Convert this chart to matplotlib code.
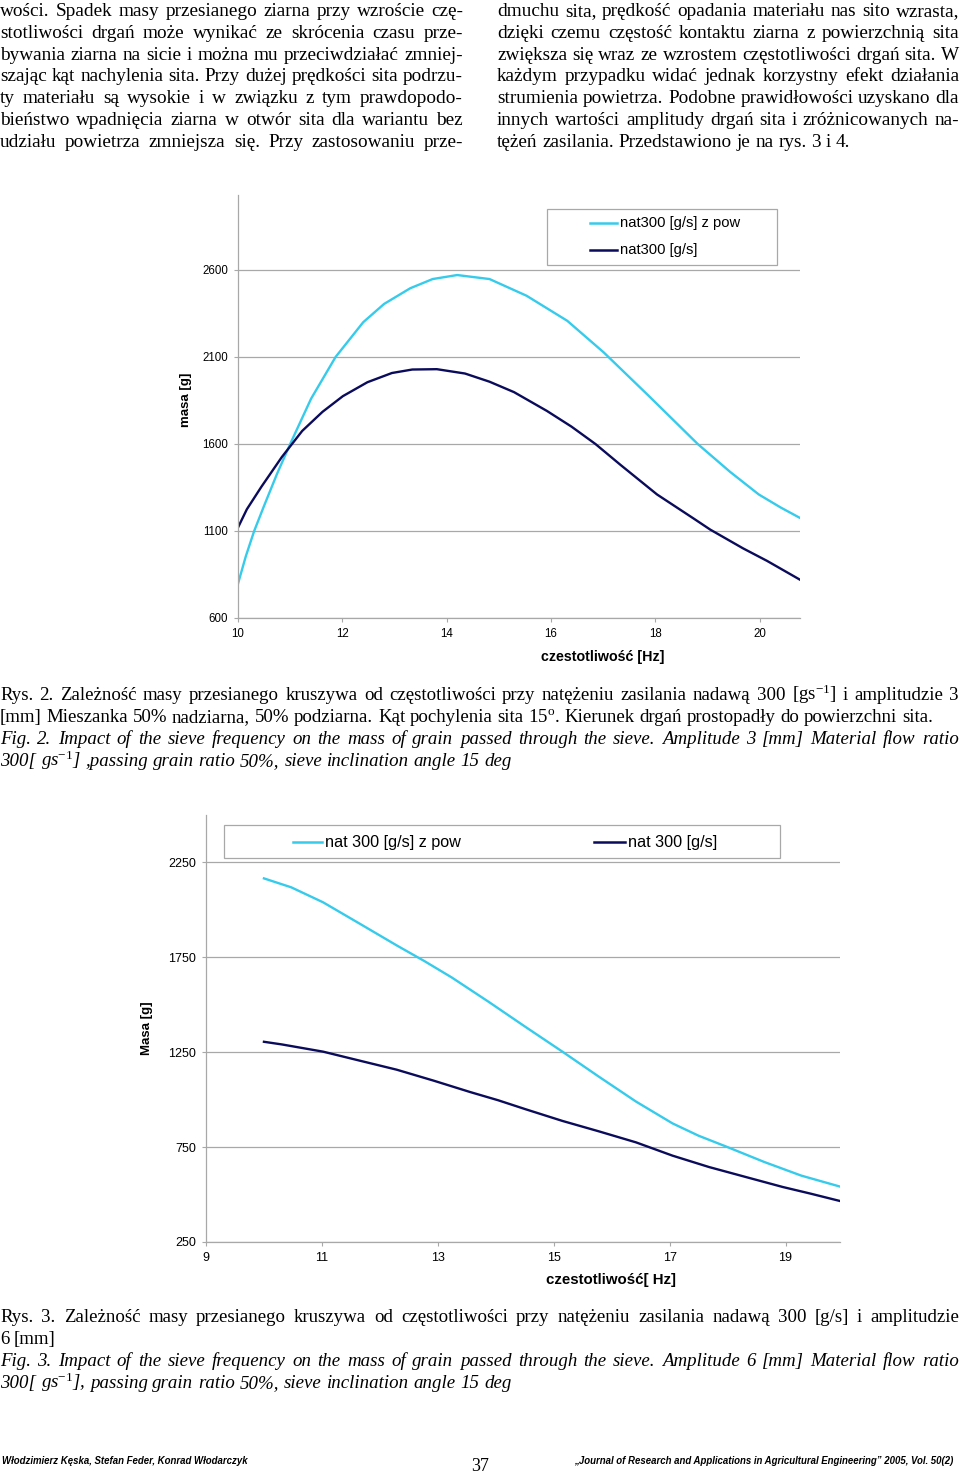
import matplotlib
matplotlib.use("Agg")
import matplotlib.pyplot as plt
from matplotlib.lines import Line2D
from matplotlib.patches import Rectangle

plt.rcParams['mathtext.fontset'] = 'custom'
plt.rcParams['mathtext.rm'] = 'Liberation Serif'
plt.rcParams['mathtext.it'] = 'Liberation Serif:italic'

# ---- data ----
# Rys. 2 (amplitude 3 mm)
f2_x_pow = [10, 10.15, 10.31, 10.5, 10.75, 11.0, 11.4, 11.87, 12.4, 12.8, 13.3,
            13.73, 14.2, 14.82, 15.53, 16.31, 17.01, 17.87, 18.81, 19.43, 19.98,
            20.4, 20.77]
f2_y_pow = [797, 955, 1100, 1245, 1430, 1600, 1860, 2100, 2300, 2405, 2495,
            2548, 2571, 2548, 2452, 2308, 2126, 1877, 1600, 1440, 1310,
            1235, 1175]
f2_x = [10, 10.17, 10.45, 10.84, 11.23, 11.62, 12.01, 12.48, 12.95, 13.34, 13.81,
        14.35, 14.82, 15.29, 15.92, 16.39, 16.85, 17.33, 18.03, 18.74, 19.05,
        19.68, 20.14, 20.77]
f2_y = [1120, 1225, 1355, 1525, 1675, 1785, 1875, 1955, 2008, 2028, 2030,
        2005, 1958, 1898, 1790, 1700, 1600, 1480, 1310, 1170, 1108,
        1000, 928, 820]

# Rys. 3 (amplitude 6 mm)
f3_x_pow = [10, 10.47, 11.02, 11.66, 12.29, 12.77, 13.24, 13.88, 14.51, 15.15,
            15.78, 16.42, 17.05, 17.5, 18.0, 18.63, 19.27, 19.94]
f3_y_pow = [2166, 2119, 2040, 1926, 1813, 1730, 1644, 1515, 1384, 1253,
            1121, 990, 875, 810, 750, 672, 600, 542]
f3_x = [10, 10.31, 11.02, 11.66, 12.29, 12.93, 13.56, 14.04, 14.51, 15.15,
        15.78, 16.42, 17.05, 17.68, 18.32, 18.95, 19.43, 19.94]
f3_y = [1305, 1291, 1253, 1205, 1158, 1100, 1040, 997, 950, 888,
        833, 775, 705, 645, 592, 540, 505, 466]

f2_yticks = [600, 1100, 1600, 2100, 2600]
f3_yticks = [250, 750, 1250, 1750, 2250]

CYAN = "#36CBEB"
NAVY = "#0B0B5C"
GRID = "#A8A8A8"
SERIF = "Liberation Serif"
SANS = "Liberation Sans"

W, H = 960, 1473
fig = plt.figure(figsize=(9.6, 14.73), dpi=100)
renderer = fig.canvas.get_renderer()


def fy(py):
    return 1 - py / H


def put_line(text, base, x0, x1, size, style="normal", last=False):
    words = text.split(" ")
    arts = [fig.text(0, fy(base), w, fontsize=size, family=SERIF, style=style,
                     va="baseline", ha="left") for w in words]
    widths = [a.get_window_extent(renderer).width for a in arts]
    if last or len(words) == 1:
        gap = 0.25 * size * 100 / 72
    else:
        gap = (x1 - x0 - sum(widths)) / (len(words) - 1)
    x = x0
    for a, w in zip(arts, widths):
        a.set_x(x / W)
        x += w + gap


# ---- body text, two columns ----
left_col = [
    "wości. Spadek masy przesianego ziarna przy wzroście czę-",
    "stotliwości drgań może wynikać ze skrócenia czasu prze-",
    "bywania ziarna na sicie i można mu przeciwdziałać zmniej-",
    "szając kąt nachylenia sita. Przy dużej prędkości sita podrzu-",
    "ty materiału są wysokie i w związku z tym prawdopodo-",
    "bieństwo wpadnięcia ziarna w otwór sita dla wariantu bez",
    "udziału powietrza zmniejsza się. Przy zastosowaniu prze-",
]
right_col = [
    "dmuchu sita, prędkość opadania materiału nas sito wzrasta,",
    "dzięki czemu częstość kontaktu ziarna z powierzchnią sita",
    "zwiększa się wraz ze wzrostem częstotliwości drgań sita. W",
    "każdym przypadku widać jednak korzystny efekt działania",
    "strumienia powietrza. Podobne prawidłowości uzyskano dla",
    "innych wartości amplitudy drgań sita i zróżnicowanych na-",
    "tężeń zasilania. Przedstawiono je na rys. 3 i 4.",
]
for i, line in enumerate(left_col):
    put_line(line, 16 + 21.8 * i, 0, 463, 13.9)
for i, line in enumerate(right_col):
    put_line(line, 16 + 21.8 * i, 497, 959, 13.9, last=(i == len(right_col) - 1))

# ---- captions ----
cap2 = [
    ("Rys. 2. Zależność masy przesianego kruszywa od częstotliwości przy natężeniu "
     "zasilania nadawą 300 [gs$^{-1}$] i amplitudzie 3", "normal", False),
    ("[mm] Mieszanka 50% nadziarna, 50% podziarna. Kąt pochylenia sita 15$^{\\mathrm{o}}$. "
     "Kierunek drgań prostopadły do powierzchni sita.", "normal", True),
    ("Fig. 2. Impact of the sieve frequency on the mass of grain passed through the "
     "sieve. Amplitude 3 [mm] Material flow ratio", "italic", False),
    ("300[ gs$^{-1}$] ,passing grain ratio 50%, sieve inclination angle 15 deg", "italic", True),
]
cap3 = [
    ("Rys. 3. Zależność masy przesianego kruszywa od częstotliwości przy natężeniu "
     "zasilania nadawą 300 [g/s] i amplitudzie", "normal", False),
    ("6 [mm]", "normal", True),
    ("Fig. 3. Impact of the sieve frequency on the mass of grain passed through the "
     "sieve. Amplitude 6 [mm] Material flow ratio", "italic", False),
    ("300[ gs$^{-1}$], passing grain ratio 50%, sieve inclination angle 15 deg", "italic", True),
]
for i, (line, st, last) in enumerate(cap2):
    put_line(line, 700 + 22 * i, 0, 959, 13.6, style=st, last=last)
for i, (line, st, last) in enumerate(cap3):
    put_line(line, 1322 + 22 * i, 0, 959, 13.6, style=st, last=last)


# ---- charts ----
def style_axes(ax, xticks, yticks, xlim, ylim, tsize):
    ax.set_xlim(*xlim)
    ax.set_ylim(*ylim)
    ax.set_xticks(xticks)
    ax.set_yticks(yticks)
    for s in ["top", "right"]:
        ax.spines[s].set_visible(False)
    for s in ["left", "bottom"]:
        ax.spines[s].set_color(GRID)
        ax.spines[s].set_linewidth(0.9)
    ax.yaxis.grid(True, color=GRID, lw=0.9)
    ax.set_axisbelow(True)
    ax.tick_params(length=3, width=0.8, color=GRID, labelsize=tsize,
                   labelfontfamily=SANS, pad=4)


def legend_entry(x0, x1, y, color, label, size):
    fig.add_artist(Line2D([x0 / W, x1 / W], [fy(y), fy(y)], color=color, lw=1.8,
                          transform=fig.transFigure))
    fig.text((x1 + 3) / W, fy(y), label, fontsize=size, family=SANS,
             va="center", ha="left")


def legend_box(x0, y0, x1, y1):
    fig.add_artist(Rectangle((x0 / W, fy(y1)), (x1 - x0) / W, (y1 - y0) / H,
                             fill=False, edgecolor=GRID, lw=0.9,
                             transform=fig.transFigure))


# Rys. 2
ax1 = fig.add_axes([238 / W, fy(618), 562 / W, (618 - 195) / H])
ax1.plot(f2_x_pow, f2_y_pow, color=CYAN, lw=1.7)
ax1.plot(f2_x, f2_y, color=NAVY, lw=1.7)
style_axes(ax1, range(10, 21, 2), f2_yticks, (10, 20.77), (600, 3031), 8.3)
ax1.text(603 / W, fy(657), "czestotliwość [Hz]", transform=fig.transFigure,
         fontsize=10.3, weight="bold", family=SANS, ha="center", va="center")
ax1.text(186 / W, fy(400), "masa [g]", transform=fig.transFigure, rotation=90,
         fontsize=9.5, weight="bold", family=SANS, ha="center", va="center")
legend_box(547, 209, 777, 265)
legend_entry(590, 617, 223, CYAN, "nat300 [g/s] z pow", 10.6)
legend_entry(590, 617, 250, NAVY, "nat300 [g/s]", 10.6)

# Rys. 3
ax2 = fig.add_axes([206 / W, fy(1242), 634 / W, (1242 - 815) / H])
ax2.plot(f3_x_pow, f3_y_pow, color=CYAN, lw=1.7)
ax2.plot(f3_x, f3_y, color=NAVY, lw=1.7)
style_axes(ax2, range(9, 20, 2), f3_yticks, (9, 19.94), (250, 2500), 9)
ax2.text(611 / W, fy(1280), "czestotliwość[ Hz]", transform=fig.transFigure,
         fontsize=10.8, weight="bold", family=SANS, ha="center", va="center")
ax2.text(147 / W, fy(1028), "Masa [g]", transform=fig.transFigure, rotation=90,
         fontsize=9.5, weight="bold", family=SANS, ha="center", va="center")
legend_box(224, 825, 780, 858)
legend_entry(293, 322, 842, CYAN, "nat 300 [g/s] z pow", 11.7)
legend_entry(594, 625, 842, NAVY, "nat 300 [g/s]", 11.7)

# ---- footer ----
NARROW = ["Liberation Sans Narrow", "Liberation Sans"]
fig.text(2 / W, fy(1464), "Włodzimierz Kęska, Stefan Feder, Konrad Włodarczyk",
         fontsize=6.9, family=NARROW, weight="bold", style="italic", va="baseline")
fig.text(480 / W, fy(1471), "37", fontsize=13, family=SERIF, ha="center", va="baseline")
fig.text(953 / W, fy(1464),
         "„Journal of Research and Applications in Agricultural Engineering” 2005, Vol. 50(2)",
         fontsize=6.9, family=NARROW, weight="bold", style="italic", va="baseline", ha="right")

fig.savefig("out.png", dpi=100)
